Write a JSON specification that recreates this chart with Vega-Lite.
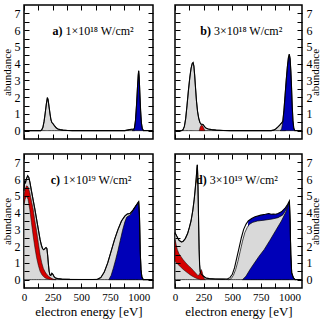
{
"$schema": "https://vega.github.io/schema/vega-lite/v6.json",
"padding": {"left": 0, "top": 3, "right": 0, "bottom": 0},
"background": "white",
"config": {
 "view": {"stroke": "black", "strokeWidth": 1.5},
 "font": "Liberation Serif",
 "axis": {"grid": false, "domain": false, "tickColor": "black", "tickWidth": 1, "labelColor": "black", "labelFont": "Liberation Serif", "labelFontSize": 12, "labelOverlap": false, "labelFlush": false, "titleFont": "Liberation Serif", "titleFontWeight": "normal", "titleColor": "black", "titleFontSize": 11, "titlePadding": 2},
 "axisX": {"labelFontSize": 11, "titleFontSize": 13, "titlePadding": 3}
},
"datasets": {
 "a_gray": [{"x":0,"y":0},{"x":145,"y":0},{"x":155,"y":0.05},{"x":165,"y":0.2},{"x":175,"y":0.55},{"x":185,"y":1.05},{"x":195,"y":1.6},{"x":204,"y":1.97},{"x":210,"y":1.85},{"x":218,"y":1.45},{"x":227,"y":1.0},{"x":235,"y":0.65},{"x":242,"y":0.5},{"x":252,"y":0.42},{"x":265,"y":0.3},{"x":280,"y":0.17},{"x":295,"y":0.1},{"x":315,"y":0.06},{"x":340,"y":0.03},{"x":380,"y":0.01},{"x":420,"y":0},{"x":880,"y":0},{"x":900,"y":0.03},{"x":920,"y":0.06},{"x":940,"y":0.08},{"x":955,"y":0.07},{"x":965,"y":0}],
 "a_blue": [{"x":945,"y":0},{"x":955,"y":0.03},{"x":963,"y":0.15},{"x":972,"y":0.6},{"x":981,"y":1.5},{"x":989,"y":2.5},{"x":996,"y":3.3},{"x":1000,"y":3.57},{"x":1004,"y":3.25},{"x":1010,"y":2.3},{"x":1017,"y":1.2},{"x":1024,"y":0.45},{"x":1032,"y":0.12},{"x":1042,"y":0}],
 "a_total": [{"x":0,"y":0},{"x":145,"y":0},{"x":155,"y":0.05},{"x":165,"y":0.2},{"x":175,"y":0.55},{"x":185,"y":1.05},{"x":195,"y":1.6},{"x":204,"y":1.97},{"x":210,"y":1.85},{"x":218,"y":1.45},{"x":227,"y":1.0},{"x":235,"y":0.65},{"x":242,"y":0.5},{"x":252,"y":0.42},{"x":265,"y":0.3},{"x":280,"y":0.17},{"x":295,"y":0.1},{"x":315,"y":0.06},{"x":340,"y":0.03},{"x":380,"y":0.01},{"x":420,"y":0},{"x":880,"y":0},{"x":900,"y":0.03},{"x":920,"y":0.06},{"x":940,"y":0.08},{"x":955,"y":0.08},{"x":963,"y":0.15},{"x":972,"y":0.6},{"x":981,"y":1.5},{"x":989,"y":2.5},{"x":996,"y":3.3},{"x":1000,"y":3.57},{"x":1004,"y":3.25},{"x":1010,"y":2.3},{"x":1017,"y":1.2},{"x":1024,"y":0.45},{"x":1032,"y":0.12},{"x":1042,"y":0},{"x":1125,"y":0}],
 "b_gray": [{"x":0,"y":0},{"x":55,"y":0},{"x":70,"y":0.05},{"x":82,"y":0.25},{"x":93,"y":0.7},{"x":105,"y":1.5},{"x":118,"y":2.45},{"x":130,"y":3.2},{"x":140,"y":3.7},{"x":150,"y":4.0},{"x":158,"y":4.07},{"x":165,"y":3.85},{"x":172,"y":3.3},{"x":180,"y":2.5},{"x":188,"y":1.75},{"x":197,"y":1.15},{"x":207,"y":0.75},{"x":217,"y":0.5},{"x":227,"y":0.38},{"x":237,"y":0.38},{"x":247,"y":0.36},{"x":257,"y":0.25},{"x":270,"y":0.15},{"x":290,"y":0.1},{"x":320,"y":0.06},{"x":360,"y":0.03},{"x":420,"y":0.01},{"x":480,"y":0},{"x":840,"y":0},{"x":860,"y":0.03},{"x":880,"y":0.1},{"x":900,"y":0.22},{"x":915,"y":0.33},{"x":930,"y":0.45},{"x":945,"y":0.55},{"x":955,"y":0.5},{"x":965,"y":0}],
 "b_red": [{"x":212,"y":0},{"x":220,"y":0.2},{"x":230,"y":0.32},{"x":240,"y":0.3},{"x":250,"y":0.15},{"x":262,"y":0}],
 "b_blue": [{"x":920,"y":0},{"x":932,"y":0.1},{"x":942,"y":0.5},{"x":952,"y":1.2},{"x":962,"y":2.1},{"x":972,"y":3.0},{"x":982,"y":3.8},{"x":991,"y":4.35},{"x":999,"y":4.56},{"x":1006,"y":4.3},{"x":1013,"y":3.5},{"x":1019,"y":2.5},{"x":1025,"y":1.4},{"x":1031,"y":0.6},{"x":1038,"y":0.15},{"x":1048,"y":0}],
 "b_total": [{"x":0,"y":0},{"x":55,"y":0},{"x":70,"y":0.05},{"x":82,"y":0.25},{"x":93,"y":0.7},{"x":105,"y":1.5},{"x":118,"y":2.45},{"x":130,"y":3.2},{"x":140,"y":3.7},{"x":150,"y":4.0},{"x":158,"y":4.07},{"x":165,"y":3.85},{"x":172,"y":3.3},{"x":180,"y":2.5},{"x":188,"y":1.75},{"x":197,"y":1.15},{"x":207,"y":0.75},{"x":217,"y":0.5},{"x":227,"y":0.38},{"x":237,"y":0.38},{"x":247,"y":0.36},{"x":257,"y":0.25},{"x":270,"y":0.15},{"x":290,"y":0.1},{"x":320,"y":0.06},{"x":360,"y":0.03},{"x":420,"y":0.01},{"x":480,"y":0},{"x":840,"y":0},{"x":860,"y":0.03},{"x":880,"y":0.1},{"x":900,"y":0.22},{"x":915,"y":0.33},{"x":930,"y":0.45},{"x":942,"y":0.55},{"x":952,"y":1.2},{"x":962,"y":2.1},{"x":972,"y":3.0},{"x":982,"y":3.8},{"x":991,"y":4.35},{"x":999,"y":4.56},{"x":1006,"y":4.3},{"x":1013,"y":3.5},{"x":1019,"y":2.5},{"x":1025,"y":1.4},{"x":1031,"y":0.6},{"x":1038,"y":0.15},{"x":1048,"y":0},{"x":1110,"y":0}],
 "c_total": [{"x":0,"y":5.3},{"x":6,"y":5.9},{"x":12,"y":5.75},{"x":20,"y":6.0},{"x":32,"y":6.2},{"x":42,"y":6.1},{"x":52,"y":5.8},{"x":65,"y":5.3},{"x":80,"y":4.75},{"x":95,"y":4.2},{"x":110,"y":3.6},{"x":125,"y":3.0},{"x":140,"y":2.4},{"x":152,"y":2.05},{"x":162,"y":1.85},{"x":172,"y":1.78},{"x":182,"y":1.85},{"x":192,"y":1.92},{"x":200,"y":1.85},{"x":207,"y":1.4},{"x":213,"y":0.9},{"x":219,"y":0.5},{"x":226,"y":0.28},{"x":234,"y":0.25},{"x":243,"y":0.38},{"x":252,"y":0.32},{"x":262,"y":0.18},{"x":275,"y":0.1},{"x":295,"y":0.06},{"x":330,"y":0.03},{"x":400,"y":0.015},{"x":500,"y":0.01},{"x":600,"y":0.01},{"x":640,"y":0.02},{"x":670,"y":0.12},{"x":700,"y":0.45},{"x":730,"y":1.0},{"x":760,"y":1.7},{"x":790,"y":2.4},{"x":820,"y":3.0},{"x":850,"y":3.5},{"x":880,"y":3.8},{"x":900,"y":3.92},{"x":925,"y":3.95},{"x":950,"y":4.15},{"x":975,"y":4.4},{"x":1000,"y":4.65},{"x":1007,"y":3.8},{"x":1013,"y":1.8},{"x":1020,"y":0.6},{"x":1028,"y":0.15},{"x":1040,"y":0},{"x":1125,"y":0}],
 "c_red": [{"x":0,"y":5.0,"y0":4.5},{"x":10,"y":5.4,"y0":4.8},{"x":22,"y":5.6,"y0":5.0},{"x":35,"y":5.55,"y0":4.8},{"x":50,"y":5.2,"y0":4.2},{"x":65,"y":4.7,"y0":3.4},{"x":80,"y":4.2,"y0":2.6},{"x":95,"y":3.5,"y0":1.9},{"x":110,"y":2.9,"y0":1.3},{"x":125,"y":2.2,"y0":0.85},{"x":140,"y":1.5,"y0":0.5},{"x":155,"y":1.0,"y0":0.3},{"x":170,"y":0.65,"y0":0.18},{"x":185,"y":0.45,"y0":0.1},{"x":200,"y":0.3,"y0":0.05},{"x":215,"y":0.2,"y0":0.02},{"x":230,"y":0.12,"y0":0.01},{"x":245,"y":0.06,"y0":0},{"x":260,"y":0.02,"y0":0},{"x":280,"y":0,"y0":0}],
 "c_blue": [{"x":740,"y":0},{"x":760,"y":0.25},{"x":780,"y":0.7},{"x":800,"y":1.2},{"x":820,"y":1.75},{"x":840,"y":2.35},{"x":860,"y":2.95},{"x":880,"y":3.45},{"x":895,"y":3.72},{"x":910,"y":3.8},{"x":925,"y":3.85},{"x":950,"y":4.1},{"x":975,"y":4.4},{"x":1000,"y":4.65},{"x":1007,"y":3.8},{"x":1013,"y":1.8},{"x":1020,"y":0.6},{"x":1028,"y":0.15},{"x":1040,"y":0}],
 "d_total": [{"x":0,"y":2.8},{"x":15,"y":2.6},{"x":35,"y":2.35},{"x":55,"y":2.25},{"x":70,"y":2.28},{"x":90,"y":2.45},{"x":110,"y":2.75},{"x":125,"y":3.1},{"x":140,"y":3.5},{"x":155,"y":4.1},{"x":168,"y":4.8},{"x":178,"y":5.5},{"x":186,"y":6.1},{"x":191,"y":6.6},{"x":195,"y":6.85},{"x":199,"y":6.2},{"x":203,"y":4.8},{"x":207,"y":3.2},{"x":211,"y":1.8},{"x":215,"y":0.9},{"x":220,"y":0.5},{"x":227,"y":0.35},{"x":237,"y":0.28},{"x":250,"y":0.2},{"x":270,"y":0.1},{"x":300,"y":0.06},{"x":350,"y":0.04},{"x":420,"y":0.03},{"x":460,"y":0.05},{"x":480,"y":0.12},{"x":500,"y":0.3},{"x":520,"y":0.7},{"x":540,"y":1.3},{"x":560,"y":1.9},{"x":580,"y":2.5},{"x":600,"y":3.0},{"x":620,"y":3.3},{"x":640,"y":3.5},{"x":670,"y":3.65},{"x":700,"y":3.75},{"x":750,"y":3.85},{"x":790,"y":3.9},{"x":820,"y":3.95},{"x":840,"y":3.9},{"x":860,"y":3.92},{"x":880,"y":3.9},{"x":900,"y":3.95},{"x":930,"y":4.05},{"x":960,"y":4.25},{"x":985,"y":4.5},{"x":1000,"y":4.7},{"x":1006,"y":3.5},{"x":1012,"y":1.5},{"x":1020,"y":0.4},{"x":1035,"y":0.1},{"x":1050,"y":0},{"x":1110,"y":0}],
 "d_gray": [{"x":0,"y":2.8},{"x":15,"y":2.6},{"x":35,"y":2.35},{"x":55,"y":2.25},{"x":70,"y":2.28},{"x":90,"y":2.45},{"x":110,"y":2.75},{"x":125,"y":3.1},{"x":140,"y":3.5},{"x":155,"y":4.1},{"x":168,"y":4.8},{"x":178,"y":5.5},{"x":186,"y":6.1},{"x":191,"y":6.6},{"x":195,"y":6.85},{"x":199,"y":6.2},{"x":203,"y":4.8},{"x":207,"y":3.2},{"x":211,"y":1.8},{"x":215,"y":0.9},{"x":220,"y":0.5},{"x":227,"y":0.35},{"x":237,"y":0.28},{"x":250,"y":0.2},{"x":270,"y":0.1},{"x":300,"y":0.06},{"x":350,"y":0.04},{"x":420,"y":0.03},{"x":440,"y":0.02},{"x":470,"y":0},{"x":490,"y":0.05},{"x":510,"y":0.25},{"x":530,"y":0.6},{"x":550,"y":1.1},{"x":570,"y":1.7},{"x":590,"y":2.3},{"x":610,"y":2.8},{"x":630,"y":3.1},{"x":650,"y":3.3},{"x":680,"y":3.42},{"x":720,"y":3.5},{"x":780,"y":3.55},{"x":850,"y":3.62},{"x":900,"y":3.7},{"x":940,"y":3.85},{"x":970,"y":4.15},{"x":1000,"y":4.65},{"x":1006,"y":3.5},{"x":1012,"y":1.5},{"x":1020,"y":0.4},{"x":1035,"y":0.1},{"x":1050,"y":0}],
 "d_blueback": [{"x":610,"y":0},{"x":640,"y":3.5},{"x":670,"y":3.65},{"x":700,"y":3.75},{"x":750,"y":3.85},{"x":790,"y":3.9},{"x":820,"y":3.95},{"x":840,"y":3.9},{"x":860,"y":3.92},{"x":880,"y":3.9},{"x":900,"y":3.95},{"x":930,"y":4.05},{"x":960,"y":4.25},{"x":985,"y":4.5},{"x":1000,"y":4.7},{"x":1006,"y":3.5},{"x":1012,"y":1.5},{"x":1020,"y":0.4},{"x":1035,"y":0.1},{"x":1050,"y":0}],
 "d_red": [{"x":0,"y":2.4,"y0":1.1},{"x":10,"y":2.1,"y0":1.02},{"x":20,"y":1.8,"y0":0.95},{"x":35,"y":1.55,"y0":0.85},{"x":50,"y":1.4,"y0":0.75},{"x":70,"y":1.2,"y0":0.62},{"x":95,"y":1.0,"y0":0.48},{"x":120,"y":0.82,"y0":0.35},{"x":140,"y":0.7,"y0":0.25},{"x":160,"y":0.55,"y0":0.17},{"x":180,"y":0.4,"y0":0.1},{"x":200,"y":0.25,"y0":0.04},{"x":212,"y":0.28,"y0":0.02},{"x":222,"y":0.5,"y0":0},{"x":230,"y":0.6,"y0":0},{"x":238,"y":0.45,"y0":0},{"x":246,"y":0.2,"y0":0},{"x":256,"y":0.05,"y0":0},{"x":265,"y":0,"y0":0}],
 "d_blue": [{"x":590,"y":0},{"x":620,"y":0.2},{"x":660,"y":0.65},{"x":700,"y":1.05},{"x":735,"y":1.4},{"x":780,"y":1.8},{"x":830,"y":2.35},{"x":882,"y":2.95},{"x":930,"y":3.5},{"x":970,"y":4.05},{"x":1000,"y":4.65},{"x":1006,"y":3.5},{"x":1012,"y":1.5},{"x":1020,"y":0.4},{"x":1035,"y":0.1},{"x":1050,"y":0}]
},
"columns": 2,
"spacing": {"row": 11, "column": 15},
"concat": [
 {
  "width": 129, "height": 134,
  "layer": [
    {"data": {"name": "a_gray"}, "mark": {"type": "area", "color": "#d9d9d9", "stroke": "black", "strokeWidth": 0.7},
     "encoding": {"x": {"field": "x", "type": "quantitative", "scale": {"domain": [0, 1125], "nice": false, "zero": false}, "axis": {"orient": "bottom", "values": [0,125,250,375,500,625,750,875,1000], "labels": false, "title": null, "tickSize": 5, "offset": -5, "zindex": 1}},
                  "y": {"field": "y", "type": "quantitative", "scale": {"domain": [-0.5, 7.5], "nice": false, "zero": false}, "axis": {"orient": "left", "values": [0,0.5,1,1.5,2,2.5,3,3.5,4,4.5,5,5.5,6,6.5,7], "labelExpr": "datum.value % 1 === 0 ? format(datum.value, 'd') : ''", "title": "abundance", "tickSize": 5, "offset": -5, "labelPadding": 4, "zindex": 1}},
                  "y2": {"datum": 0}}},
    {"data": {"name": "a_blue"}, "mark": {"type": "area", "color": "#0000b8", "stroke": "black", "strokeWidth": 0.7},
     "encoding": {"x": {"field": "x", "type": "quantitative", "axis": null}, "y": {"field": "y", "type": "quantitative", "axis": null}, "y2": {"datum": 0}}},
    {"data": {"values": [{"tag": "a)", "txt": "1×10¹⁸ W/cm²"}]}, "mark": {"type": "text", "font": "Liberation Serif", "fontSize": 12, "fontWeight": "bold", "align": "right", "baseline": "alphabetic"},
     "encoding": {"x": {"datum": 335, "type": "quantitative", "axis": null}, "y": {"datum": 5.7, "type": "quantitative", "axis": null}, "text": {"field": "tag"}}},
    {"data": {"values": [{"tag": "a)", "txt": "1×10¹⁸ W/cm²"}]}, "mark": {"type": "text", "font": "Liberation Serif", "fontSize": 12, "align": "left", "dx": 3, "baseline": "alphabetic"},
     "encoding": {"x": {"datum": 335, "type": "quantitative", "axis": null}, "y": {"datum": 5.7, "type": "quantitative", "axis": null}, "text": {"field": "txt"}}},
    {"data": {"name": "a_total"}, "mark": {"type": "line", "color": "black", "strokeWidth": 1.1},
     "encoding": {"x": {"field": "x", "type": "quantitative", "axis": {"orient": "top", "values": [0,125,250,375,500,625,750,875,1000], "labels": false, "title": null, "tickSize": 5, "offset": -5, "zindex": 1}},
                  "y": {"field": "y", "type": "quantitative", "axis": {"orient": "right", "values": [0,0.5,1,1.5,2,2.5,3,3.5,4,4.5,5,5.5,6,6.5,7], "labels": false, "title": null, "tickSize": 5, "offset": -5, "zindex": 1}}}}
  ],
  "resolve": {"axis": {"x": "independent", "y": "independent"}}
 },
 {
  "width": 127, "height": 134,
  "layer": [
    {"data": {"name": "b_gray"}, "mark": {"type": "area", "color": "#d9d9d9", "stroke": "black", "strokeWidth": 0.7},
     "encoding": {"x": {"field": "x", "type": "quantitative", "scale": {"domain": [0, 1110], "nice": false, "zero": false}, "axis": {"orient": "bottom", "values": [0,125,250,375,500,625,750,875,1000], "labels": false, "title": null, "tickSize": 5, "offset": -5, "zindex": 1}},
                  "y": {"field": "y", "type": "quantitative", "scale": {"domain": [-0.5, 7.5], "nice": false, "zero": false}, "axis": {"orient": "right", "values": [0,0.5,1,1.5,2,2.5,3,3.5,4,4.5,5,5.5,6,6.5,7], "labelExpr": "datum.value % 1 === 0 ? format(datum.value, 'd') : ''", "title": "abundance", "titleAngle": 270, "titleBaseline": "bottom", "titlePadding": 8, "tickSize": 5, "offset": -5, "labelPadding": 4, "zindex": 1}},
                  "y2": {"datum": 0}}},
    {"data": {"name": "b_red"}, "mark": {"type": "area", "color": "#d40000", "stroke": "black", "strokeWidth": 0.5},
     "encoding": {"x": {"field": "x", "type": "quantitative", "axis": null}, "y": {"field": "y", "type": "quantitative", "axis": null}, "y2": {"datum": 0}}},
    {"data": {"name": "b_blue"}, "mark": {"type": "area", "color": "#0000b8", "stroke": "black", "strokeWidth": 0.7},
     "encoding": {"x": {"field": "x", "type": "quantitative", "axis": null}, "y": {"field": "y", "type": "quantitative", "axis": null}, "y2": {"datum": 0}}},
    {"data": {"values": [{"tag": "b)", "txt": "3×10¹⁸ W/cm²"}]}, "mark": {"type": "text", "font": "Liberation Serif", "fontSize": 12, "fontWeight": "bold", "align": "right", "baseline": "alphabetic"},
     "encoding": {"x": {"datum": 315, "type": "quantitative", "axis": null}, "y": {"datum": 5.7, "type": "quantitative", "axis": null}, "text": {"field": "tag"}}},
    {"data": {"values": [{"tag": "b)", "txt": "3×10¹⁸ W/cm²"}]}, "mark": {"type": "text", "font": "Liberation Serif", "fontSize": 12, "align": "left", "dx": 3, "baseline": "alphabetic"},
     "encoding": {"x": {"datum": 315, "type": "quantitative", "axis": null}, "y": {"datum": 5.7, "type": "quantitative", "axis": null}, "text": {"field": "txt"}}},
    {"data": {"name": "b_total"}, "mark": {"type": "line", "color": "black", "strokeWidth": 1.1},
     "encoding": {"x": {"field": "x", "type": "quantitative", "axis": {"orient": "top", "values": [0,125,250,375,500,625,750,875,1000], "labels": false, "title": null, "tickSize": 5, "offset": -5, "zindex": 1}},
                  "y": {"field": "y", "type": "quantitative", "axis": {"orient": "left", "values": [0,0.5,1,1.5,2,2.5,3,3.5,4,4.5,5,5.5,6,6.5,7], "labels": false, "title": null, "tickSize": 5, "offset": -5, "zindex": 1}}}}
  ],
  "resolve": {"axis": {"x": "independent", "y": "independent"}}
 },
 {
  "width": 129, "height": 134,
  "layer": [
    {"data": {"name": "c_total"}, "mark": {"type": "area", "color": "#d9d9d9", "stroke": "black", "strokeWidth": 0.7},
     "encoding": {"x": {"field": "x", "type": "quantitative", "scale": {"domain": [0, 1125], "nice": false, "zero": false}, "axis": {"orient": "bottom", "values": [0,125,250,375,500,625,750,875,1000], "labelExpr": "datum.value % 250 === 0 ? format(datum.value, 'd') : ''", "title": "electron energy [eV]", "tickSize": 5, "offset": -5, "labelPadding": 3, "zindex": 1}},
                  "y": {"field": "y", "type": "quantitative", "scale": {"domain": [-0.5, 7.5], "nice": false, "zero": false}, "axis": {"orient": "left", "values": [0,0.5,1,1.5,2,2.5,3,3.5,4,4.5,5,5.5,6,6.5,7], "labelExpr": "datum.value % 1 === 0 ? format(datum.value, 'd') : ''", "title": "abundance", "tickSize": 5, "offset": -5, "labelPadding": 4, "zindex": 1}},
                  "y2": {"datum": 0}}},
    {"data": {"name": "c_red"}, "mark": {"type": "area", "color": "#d40000", "stroke": "black", "strokeWidth": 0.5},
     "encoding": {"x": {"field": "x", "type": "quantitative", "axis": null}, "y": {"field": "y", "type": "quantitative", "axis": null}, "y2": {"field": "y0"}}},
    {"data": {"name": "c_blue"}, "mark": {"type": "area", "color": "#0000b8", "stroke": "black", "strokeWidth": 0.7},
     "encoding": {"x": {"field": "x", "type": "quantitative", "axis": null}, "y": {"field": "y", "type": "quantitative", "axis": null}, "y2": {"datum": 0}}},
    {"data": {"values": [{"tag": "c)", "txt": "1×10¹⁹ W/cm²"}]}, "mark": {"type": "text", "font": "Liberation Serif", "fontSize": 12, "fontWeight": "bold", "align": "right", "baseline": "alphabetic"},
     "encoding": {"x": {"datum": 315, "type": "quantitative", "axis": null}, "y": {"datum": 5.7, "type": "quantitative", "axis": null}, "text": {"field": "tag"}}},
    {"data": {"values": [{"tag": "c)", "txt": "1×10¹⁹ W/cm²"}]}, "mark": {"type": "text", "font": "Liberation Serif", "fontSize": 12, "align": "left", "dx": 3, "baseline": "alphabetic"},
     "encoding": {"x": {"datum": 315, "type": "quantitative", "axis": null}, "y": {"datum": 5.7, "type": "quantitative", "axis": null}, "text": {"field": "txt"}}},
    {"data": {"name": "c_total"}, "mark": {"type": "line", "color": "black", "strokeWidth": 1.1},
     "encoding": {"x": {"field": "x", "type": "quantitative", "axis": {"orient": "top", "values": [0,125,250,375,500,625,750,875,1000], "labels": false, "title": null, "tickSize": 5, "offset": -5, "zindex": 1}},
                  "y": {"field": "y", "type": "quantitative", "axis": {"orient": "right", "values": [0,0.5,1,1.5,2,2.5,3,3.5,4,4.5,5,5.5,6,6.5,7], "labels": false, "title": null, "tickSize": 5, "offset": -5, "zindex": 1}}}}
  ],
  "resolve": {"axis": {"x": "independent", "y": "independent"}}
 },
 {
  "width": 127, "height": 134,
  "layer": [
    {"data": {"name": "d_blueback"}, "mark": {"type": "area", "color": "#0000b8"},
     "encoding": {"x": {"field": "x", "type": "quantitative", "axis": null}, "y": {"field": "y", "type": "quantitative", "axis": null}, "y2": {"datum": 0}}},
    {"data": {"name": "d_gray"}, "mark": {"type": "area", "color": "#d9d9d9", "stroke": "black", "strokeWidth": 0.7},
     "encoding": {"x": {"field": "x", "type": "quantitative", "scale": {"domain": [0, 1110], "nice": false, "zero": false}, "axis": {"orient": "bottom", "values": [0,125,250,375,500,625,750,875,1000], "labelExpr": "datum.value % 250 === 0 ? format(datum.value, 'd') : ''", "title": "electron energy [eV]", "tickSize": 5, "offset": -5, "labelPadding": 3, "zindex": 1}},
                  "y": {"field": "y", "type": "quantitative", "scale": {"domain": [-0.5, 7.5], "nice": false, "zero": false}, "axis": {"orient": "right", "values": [0,0.5,1,1.5,2,2.5,3,3.5,4,4.5,5,5.5,6,6.5,7], "labelExpr": "datum.value % 1 === 0 ? format(datum.value, 'd') : ''", "title": "abundance", "titleAngle": 270, "titleBaseline": "bottom", "titlePadding": 8, "tickSize": 5, "offset": -5, "labelPadding": 4, "zindex": 1}},
                  "y2": {"datum": 0}}},
    {"data": {"name": "d_red"}, "mark": {"type": "area", "color": "#d40000", "stroke": "black", "strokeWidth": 0.5},
     "encoding": {"x": {"field": "x", "type": "quantitative", "axis": null}, "y": {"field": "y", "type": "quantitative", "axis": null}, "y2": {"field": "y0"}}},
    {"data": {"name": "d_blue"}, "mark": {"type": "area", "color": "#0000b8", "stroke": "black", "strokeWidth": 0.7},
     "encoding": {"x": {"field": "x", "type": "quantitative", "axis": null}, "y": {"field": "y", "type": "quantitative", "axis": null}, "y2": {"datum": 0}}},
    {"data": {"values": [{"tag": "d)", "txt": "3×10¹⁹ W/cm²"}]}, "mark": {"type": "text", "font": "Liberation Serif", "fontSize": 12, "fontWeight": "bold", "align": "right", "baseline": "alphabetic"},
     "encoding": {"x": {"datum": 277, "type": "quantitative", "axis": null}, "y": {"datum": 5.7, "type": "quantitative", "axis": null}, "text": {"field": "tag"}}},
    {"data": {"values": [{"tag": "d)", "txt": "3×10¹⁹ W/cm²"}]}, "mark": {"type": "text", "font": "Liberation Serif", "fontSize": 12, "align": "left", "dx": 3, "baseline": "alphabetic"},
     "encoding": {"x": {"datum": 277, "type": "quantitative", "axis": null}, "y": {"datum": 5.7, "type": "quantitative", "axis": null}, "text": {"field": "txt"}}},
    {"data": {"name": "d_total"}, "mark": {"type": "line", "color": "black", "strokeWidth": 1.1},
     "encoding": {"x": {"field": "x", "type": "quantitative", "axis": {"orient": "top", "values": [0,125,250,375,500,625,750,875,1000], "labels": false, "title": null, "tickSize": 5, "offset": -5, "zindex": 1}},
                  "y": {"field": "y", "type": "quantitative", "axis": {"orient": "left", "values": [0,0.5,1,1.5,2,2.5,3,3.5,4,4.5,5,5.5,6,6.5,7], "labels": false, "title": null, "tickSize": 5, "offset": -5, "zindex": 1}}}}
  ],
  "resolve": {"axis": {"x": "independent", "y": "independent"}}
 }
]
}
